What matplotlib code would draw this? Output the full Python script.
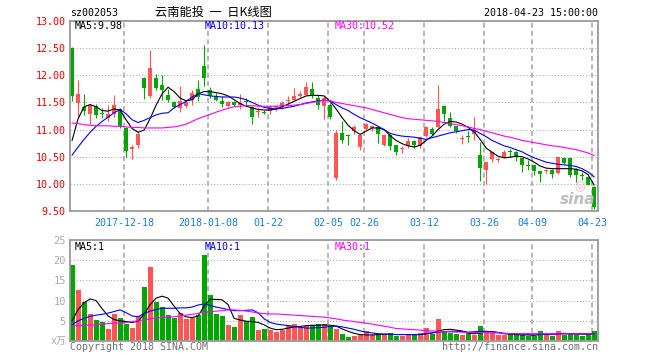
import matplotlib
matplotlib.use("Agg")
import matplotlib.pyplot as plt

# daily candles, 2017-12-05 .. 2018-04-23
opens = [12.50, 11.49, 11.42, 11.28, 11.43, 11.31, 11.22, 11.29, 11.37, 11.03,
         10.64, 10.71, 11.95, 11.62, 11.95, 11.83, 11.64, 11.50, 11.40, 11.43,
         11.55, 11.75, 12.17, 11.72, 11.60, 11.52, 11.43, 11.51, 11.46, 11.53,
         11.42, 11.32, 11.33, 11.35, 11.40, 11.42, 11.52, 11.55, 11.61, 11.64,
         11.75, 11.58, 11.43, 11.46, 10.11, 10.94, 10.90, 10.97, 10.68, 11.01,
         11.03, 11.05, 10.71, 10.90, 10.71, 10.64, 10.69, 10.79, 10.69, 10.88,
         11.01, 11.04, 11.43, 11.21, 11.06, 10.82, 10.89, 10.91, 10.53, 10.25,
         10.45, 10.44, 10.49, 10.61, 10.59, 10.47, 10.35, 10.34, 10.23, 10.23,
         10.25, 10.20, 10.48, 10.48, 10.28, 10.16, 10.12, 9.95]
highs = [12.52, 11.92, 11.65, 11.48, 11.47, 11.40, 11.46, 11.64, 11.40, 11.04,
         10.72, 10.97, 11.97, 12.47, 12.02, 12.00, 11.75, 11.52, 11.80, 11.55,
         11.72, 11.92, 12.56, 11.78, 11.67, 11.62, 11.52, 11.53, 11.65, 11.58,
         11.43, 11.41, 11.36, 11.45, 11.46, 11.52, 11.61, 11.76, 11.71, 11.87,
         11.87, 11.64, 11.62, 11.49, 10.99, 11.15, 10.91, 11.09, 10.91, 11.12,
         11.09, 11.07, 10.91, 10.91, 10.72, 10.69, 10.85, 10.81, 10.87, 11.06,
         11.04, 11.83, 11.45, 11.33, 11.07, 10.90, 10.97, 11.23, 10.78, 10.41,
         10.60, 10.50, 10.62, 10.65, 10.60, 10.48, 10.44, 10.35, 10.24, 10.28,
         10.28, 10.50, 10.50, 10.50, 10.30, 10.22, 10.14, 9.96]
lows = [11.52, 11.24, 11.26, 11.11, 11.21, 11.21, 11.15, 11.24, 11.03, 10.50,
        10.46, 10.66, 11.56, 11.58, 11.72, 11.55, 11.50, 11.40, 11.33, 11.40,
        11.45, 11.52, 11.80, 11.58, 11.52, 11.42, 11.41, 11.44, 11.38, 11.46,
        11.11, 11.24, 11.28, 11.29, 11.35, 11.37, 11.46, 11.52, 11.58, 11.64,
        11.58, 11.37, 11.20, 11.20, 10.08, 10.76, 10.72, 10.91, 10.63, 11.00,
        10.98, 10.76, 10.70, 10.63, 10.54, 10.57, 10.66, 10.66, 10.66, 10.86,
        10.90, 11.02, 11.15, 11.05, 10.94, 10.74, 10.78, 10.80, 10.06, 10.00,
        10.41, 10.40, 10.48, 10.50, 10.43, 10.22, 10.26, 10.16, 10.03, 10.20,
        10.10, 10.18, 10.37, 10.12, 10.04, 10.07, 9.97, 9.53]
closes = [11.61, 11.66, 11.35, 11.45, 11.26, 11.29, 11.29, 11.46, 11.07, 10.60,
          10.67, 10.91, 11.76, 12.13, 11.76, 11.73, 11.54, 11.42, 11.52, 11.50,
          11.68, 11.60, 11.95, 11.62, 11.54, 11.47, 11.50, 11.46, 11.49, 11.51,
          11.23, 11.34, 11.31, 11.42, 11.43, 11.49, 11.55, 11.62, 11.66, 11.78,
          11.64, 11.45, 11.58, 11.24, 10.93, 10.80, 10.88, 11.05, 10.90, 11.10,
          11.06, 10.91, 10.90, 10.69, 10.59, 10.66, 10.79, 10.71, 10.86, 11.05,
          10.91, 11.38, 11.28, 11.07, 10.97, 10.84, 10.87, 10.99, 10.30, 10.40,
          10.59, 10.46, 10.58, 10.59, 10.50, 10.35, 10.33, 10.23, 10.18, 10.25,
          10.18, 10.49, 10.38, 10.17, 10.17, 10.15, 9.98, 9.58]

# moving averages as drawn on the chart
ma5 = [10.80, 11.20, 11.42, 11.46, 11.42, 11.35, 11.34, 11.38, 11.36, 11.18,
       11.02, 10.95, 10.99, 11.20, 11.45, 11.66, 11.78, 11.70, 11.58, 11.53,
       11.55, 11.66, 11.70, 11.70, 11.68, 11.66, 11.62, 11.55, 11.48, 11.43,
       11.40, 11.37, 11.36, 11.36, 11.38, 11.42, 11.47, 11.52, 11.57, 11.62,
       11.63, 11.63, 11.62, 11.52, 11.38, 11.22, 11.08, 10.98, 10.91, 10.97,
       11.03, 11.03, 11.00, 10.89, 10.80, 10.74, 10.70, 10.68, 10.71, 10.80,
       10.88, 11.00, 11.10, 11.15, 11.14, 11.10, 11.04, 10.96, 10.82, 10.66,
       10.58, 10.51, 10.48, 10.49, 10.51, 10.50, 10.46, 10.40, 10.33, 10.29,
       10.28, 10.28, 10.28, 10.28, 10.27, 10.24, 10.17, 9.98]
ma10 = [10.53, 10.68, 10.82, 10.95, 11.06, 11.15, 11.23, 11.31, 11.37, 11.29,
        11.18, 11.13, 11.17, 11.22, 11.27, 11.30, 11.31, 11.40, 11.46, 11.52,
        11.60, 11.66, 11.64, 11.62, 11.61, 11.60, 11.60, 11.60, 11.58, 11.55,
        11.50, 11.45, 11.41, 11.39, 11.38, 11.39, 11.41, 11.43, 11.46, 11.49,
        11.51, 11.53, 11.54, 11.53, 11.46, 11.40, 11.35, 11.28, 11.22, 11.17,
        11.12, 11.06, 11.00, 10.93, 10.90, 10.88, 10.87, 10.86, 10.84, 10.82,
        10.85, 10.88, 10.91, 10.94, 10.96, 10.98, 11.00, 10.99, 10.93, 10.87,
        10.80, 10.75, 10.70, 10.67, 10.63, 10.59, 10.53, 10.48, 10.44, 10.40,
        10.38, 10.36, 10.35, 10.34, 10.32, 10.28, 10.22, 10.13]
ma30 = [11.12, 11.11, 11.09, 11.08, 11.07, 11.07, 11.07, 11.06, 11.06, 11.05,
        11.04, 11.04, 11.03, 11.03, 11.03, 11.03, 11.04, 11.05, 11.07, 11.10,
        11.15, 11.20, 11.24, 11.28, 11.32, 11.36, 11.39, 11.42, 11.43, 11.44,
        11.44, 11.43, 11.43, 11.43, 11.43, 11.44, 11.44, 11.45, 11.46, 11.48,
        11.50, 11.52, 11.54, 11.53, 11.50, 11.48, 11.46, 11.44, 11.42, 11.40,
        11.37, 11.34, 11.31, 11.28, 11.25, 11.22, 11.20, 11.19, 11.18, 11.17,
        11.16, 11.15, 11.13, 11.11, 11.09, 11.07, 11.05, 11.02, 11.00, 10.97,
        10.94, 10.91, 10.88, 10.86, 10.83, 10.80, 10.78, 10.76, 10.74, 10.72,
        10.70, 10.69, 10.67, 10.65, 10.63, 10.60, 10.57, 10.52]

# volume (x10k lots) and its moving averages
volumes = [18.7, 12.7, 9.6, 6.7, 5.2, 4.75, 2.9, 6.7, 5.6, 4.3,
           3.1, 6.25, 13.4, 18.2, 9.6, 8.4, 6.4, 5.75, 7.0, 5.4,
           5.75, 6.4, 21.4, 11.4, 6.7, 6.25, 3.9, 3.4, 6.4, 4.9,
           6.0, 2.7, 2.9, 2.7, 2.25, 2.7, 3.9, 4.3, 3.5, 3.75,
           3.9, 4.2, 4.2, 3.7, 2.9, 1.7, 0.9, 1.25, 1.6, 2.4,
           1.4, 1.6, 1.6, 2.0, 1.25, 1.25, 1.8, 1.6, 2.0, 3.1,
           1.8, 5.4, 2.4, 2.0, 1.7, 1.4, 2.1, 1.4, 3.7, 2.1,
           2.1, 1.4, 1.4, 1.8, 1.6, 1.6, 1.3, 1.3, 2.4, 1.6,
           1.3, 2.4, 1.6, 1.75, 1.6, 1.3, 1.6, 2.4]
vma5 = [5.0, 7.8, 9.5, 10.4, 10.0, 8.0, 6.2, 5.3, 5.0, 4.8,
        4.6, 4.9, 6.6, 9.0, 10.6, 11.1, 10.6, 8.6, 6.8, 6.0,
        5.8, 6.2, 8.6, 10.3, 10.3, 10.2, 9.0, 5.6, 5.2, 4.9,
        4.8, 4.6, 4.0, 3.2, 2.8, 2.9, 3.2, 3.5, 3.6, 3.8,
        3.9, 3.9, 4.0, 3.9, 3.7, 3.0, 2.4, 1.9, 1.6, 1.5,
        1.5, 1.6, 1.7, 1.6, 1.6, 1.6, 1.6, 1.6, 1.6, 1.8,
        2.0, 2.5, 2.8, 2.9, 2.7, 2.5, 2.0, 1.8, 2.0, 2.2,
        2.3, 2.1, 1.8, 1.7, 1.6, 1.5, 1.5, 1.4, 1.6, 1.7,
        1.7, 1.8, 1.9, 1.8, 1.7, 1.7, 1.6, 1.7]
vma10 = [4.0, 5.0, 5.6, 6.1, 6.4, 6.6, 6.9, 7.3, 7.7, 7.0,
         6.2, 6.0, 6.8, 7.4, 7.8, 8.1, 8.1, 8.1, 8.2, 8.2,
         8.4, 8.9, 9.2, 8.8, 8.4, 8.1, 7.8, 7.5, 7.5, 7.6,
         7.7, 7.0, 5.5, 4.6, 4.2, 4.0, 3.8, 3.6, 3.4, 3.2,
         3.2, 3.3, 3.4, 3.6, 3.7, 3.5, 3.2, 2.9, 2.5, 2.2,
         2.0, 1.8, 1.7, 1.7, 1.6, 1.6, 1.6, 1.6, 1.6, 1.8,
         2.0, 2.2, 2.3, 2.4, 2.4, 2.3, 2.2, 2.3, 2.4, 2.4,
         2.3, 2.1, 1.9, 1.8, 1.8, 1.7, 1.7, 1.7, 1.7, 1.6,
         1.6, 1.7, 1.8, 1.8, 1.8, 1.8, 1.8, 1.8]
vma30 = [3.8, 3.8, 3.9, 3.9, 4.1, 4.2, 4.3, 4.4, 4.5, 4.6,
         4.8, 5.0, 5.2, 5.5, 5.7, 5.8, 5.9, 6.0, 6.2, 6.4,
         6.6, 6.8, 7.1, 7.2, 7.4, 7.5, 7.7, 7.7, 7.6, 7.4,
         7.2, 6.9, 6.8, 6.7, 6.7, 6.6, 6.5, 6.4, 6.3, 6.2,
         6.1, 6.0, 5.9, 5.7, 5.5, 5.2, 5.0, 4.8, 4.6, 4.4,
         4.2, 3.9, 3.7, 3.4, 3.1, 3.0, 2.9, 2.8, 2.7, 2.5,
         2.5, 2.4, 2.3, 2.25, 2.2, 2.2, 2.1, 2.1, 2.1, 2.1,
         2.0, 2.0, 1.9, 1.8, 1.8, 1.8, 1.8, 1.8, 1.8, 1.8,
         1.8, 1.75, 1.75, 1.75, 1.75, 1.75, 1.75, 1.75]

# date labels and the candle they belong to
date_labels = ["2017-12-18", "2018-01-08", "01-22", "02-05", "02-26",
               "03-12", "03-26", "04-09", "04-23"]
date_index = [9, 23, 33, 43, 49, 59, 69, 77, 87]
price_ticks = [9.5, 10.0, 10.5, 11.0, 11.5, 12.0, 12.5, 13.0]
volume_ticks = [5, 10, 15, 20, 25]

MONO = "DejaVu Sans Mono"
CJK = ["Noto Sans CJK SC", "DejaVu Sans"]
RED = "#ff5555"
GREEN = "#00a600"
GRID = "#aaaaaa"
FRAME = "#9a9a9a"
W, H = 660, 360


def box(left, top, right, bottom):
    """Pixel box (from top-left) -> figure fraction rect"""
    return [left / W, 1 - bottom / H, (right - left) / W, (bottom - top) / H]


def style_axes(ax):
    for sp in ax.spines.values():
        sp.set_color(FRAME)
        sp.set_linewidth(1.3)
    ax.set_xlim(-0.35, 87.65)
    ax.set_xticks([i - 0.33 for i in date_index])
    ax.grid(axis="x", color=GRID, linestyle=(0, (3, 2)), linewidth=1.2)
    ax.grid(axis="y", color=GRID, linestyle=(0, (1, 2)), linewidth=0.75)
    ax.set_axisbelow(True)
    ax.tick_params(length=0)


fig = plt.figure(figsize=(6.6, 3.6), dpi=100)
ax = fig.add_axes(box(70, 21, 598, 211))
axv = fig.add_axes(box(70, 240, 598, 341))

x = list(range(len(closes)))
colors = [RED if c >= o else GREEN for o, c in zip(opens, closes)]
bottoms = [min(o, c) for o, c in zip(opens, closes)]
heights = [max(abs(c - o), 0.02) for o, c in zip(opens, closes)]

# price panel
style_axes(ax)
ax.vlines(x, lows, highs, colors=colors, linewidth=0.8)
ax.bar(x, heights, bottom=bottoms, width=0.75, color=colors, linewidth=0)
ax.plot(x, ma5, color="black", linewidth=0.8)
ax.plot(x, ma10, color="#0000ff", linewidth=0.8)
ax.plot(x, ma30, color="#ff00ff", linewidth=0.8)
ax.set_ylim(9.5, 13.0)
ax.set_yticks(price_ticks)
ax.set_yticklabels([f"{v:.2f}" for v in price_ticks], color="#ee0000",
                   family=MONO, fontsize=7.2)
ax.set_xticklabels(date_labels, color="#1a7fd6", family=MONO, fontsize=7.2)
ax.tick_params(axis="x", pad=5)
ax.tick_params(axis="y", pad=3)
ax.text(0.995, 0.02, "sina", transform=ax.transAxes, ha="right", va="bottom",
        fontsize=11, fontweight="bold", style="italic", color="#bdbdbd")
ax.text(0.965, 0.13, "◎", transform=ax.transAxes, ha="center", va="center",
        fontsize=9, color="#f3b4b4")

# volume panel
style_axes(axv)
axv.bar(x, volumes, width=0.82, color=colors, linewidth=0)
axv.plot(x, vma5, color="black", linewidth=0.8)
axv.plot(x, vma10, color="#0000ff", linewidth=0.8)
axv.plot(x, vma30, color="#ff00ff", linewidth=0.8)
axv.set_ylim(0, 25)
axv.set_yticks(volume_ticks)
axv.set_yticklabels([str(v) for v in volume_ticks], color="#aaaaaa",
                    family=MONO, fontsize=7.5)
axv.set_xticklabels([])
axv.tick_params(axis="y", pad=3)

# header and legend texts
fig.text(70 / W, 1 - 13 / H, "sz002053", family=MONO, fontsize=7.2, va="center")
fig.text(213 / W, 1 - 12 / H, "云南能投  一  日K线图", family=CJK, fontsize=8.8,
         ha="center", va="center")
fig.text(598 / W, 1 - 13 / H, "2018-04-23 15:00:00", family=MONO, fontsize=7.2,
         ha="right", va="center")
for xp, txt, col in [(75, f"MA5:{ma5[-1]:.2f}", "black"),
                     (205, f"MA10:{ma10[-1]:.2f}", "#0000ff"),
                     (335, f"MA30:{ma30[-1]:.2f}", "#ff00ff")]:
    fig.text(xp / W, 1 - 26 / H, txt, family=MONO, fontsize=7.2, color=col,
             va="center")
for xp, txt, col in [(75, "MA5:1", "black"), (205, "MA10:1", "#0000ff"),
                     (335, "MA30:1", "#ff00ff")]:
    fig.text(xp / W, 1 - 247 / H, txt, family=MONO, fontsize=7.2, color=col,
             va="center")
fig.text(66 / W, 1 - 341 / H, "x万", family=[MONO, "Noto Sans CJK SC"],
         fontsize=7, color="#aaaaaa", ha="right", va="center")
fig.text(70 / W, 1 - 347 / H, "Copyright 2018 SINA.COM", family=MONO,
         fontsize=7.2, color="#707070", va="center")
fig.text(598 / W, 1 - 347 / H, "http://finance.sina.com.cn", family=MONO,
         fontsize=7.2, color="#707070", ha="right", va="center")

fig.savefig("out.png", dpi=100)
